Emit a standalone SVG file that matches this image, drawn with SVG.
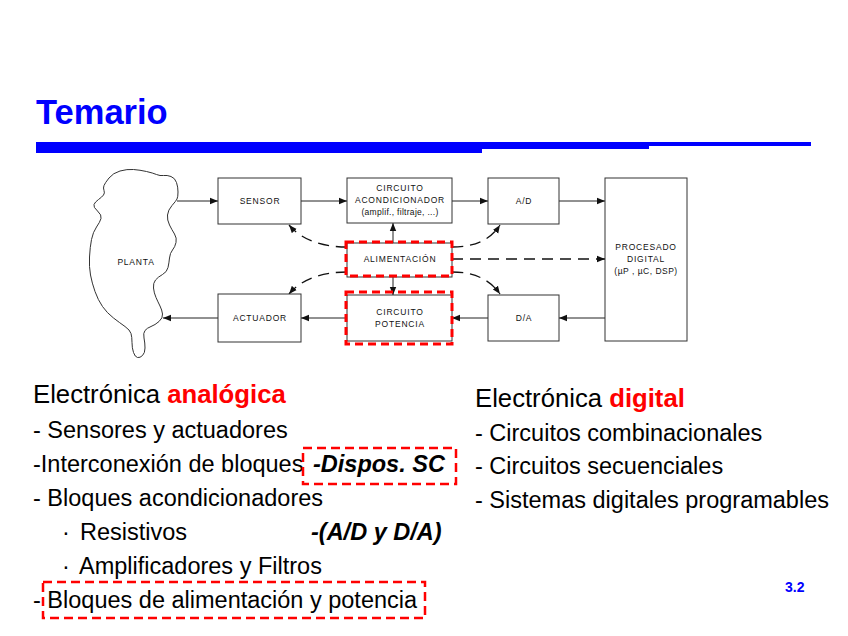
<svg xmlns="http://www.w3.org/2000/svg" width="848" height="636" viewBox="0 0 848 636">
<defs>
<style>
.box{fill:#fff;stroke:#333;stroke-width:1}
.lbl{font-family:"Liberation Sans",Arial,sans-serif;font-size:8.5px;letter-spacing:0.8px;fill:#111;text-anchor:middle}
.wire{fill:none;stroke:#222;stroke-width:1}
.dash{fill:none;stroke:#111;stroke-width:1.3;stroke-dasharray:11 7}
.red{fill:none;stroke:#f00;stroke-width:3;stroke-dasharray:8 5}
.redt{fill:none;stroke:#f00;stroke-width:2.5;stroke-dasharray:9 5}
.body{font-family:"Liberation Sans",Arial,sans-serif;font-size:23.5px;fill:#000}
.head{font-size:25.7px}
.hl{fill:#f00;font-weight:bold}
.bi{font-weight:bold;font-style:italic}
</style>
<marker id="ah" viewBox="0 0 10 10" refX="10" refY="5" markerWidth="8" markerHeight="8" markerUnits="userSpaceOnUse" orient="auto">
<path d="M0,1 L10,5 L0,9 Z" fill="#111"/>
</marker>
</defs>
<rect width="848" height="636" fill="#fff"/>
<text x="36" y="124" font-family="'Liberation Sans',Arial,sans-serif" font-size="34.5" font-weight="bold" fill="#00f">Temario</text>
<g id="title-bar" fill="#00f">
<rect x="36" y="142" width="446" height="11"/>
<rect x="481" y="142" width="168" height="7"/>
<rect x="648" y="142" width="163" height="4"/>
</g>
<g id="connectors">
<line class="wire" x1="177" y1="201" x2="218" y2="201" marker-end="url(#ah)"/>
<line class="wire" x1="301" y1="201" x2="347" y2="201" marker-end="url(#ah)"/>
<line class="wire" x1="452" y1="201" x2="488" y2="201" marker-end="url(#ah)"/>
<line class="wire" x1="559" y1="201" x2="605" y2="201" marker-end="url(#ah)"/>
<line class="wire" x1="605" y1="318" x2="559" y2="318" marker-end="url(#ah)"/>
<line class="wire" x1="488" y1="318" x2="452" y2="318" marker-end="url(#ah)"/>
<line class="wire" x1="347" y1="318" x2="301" y2="318" marker-end="url(#ah)"/>
<line class="wire" x1="218" y1="318" x2="163" y2="318" marker-end="url(#ah)"/>
<line class="wire" x1="393" y1="243" x2="393" y2="223" marker-end="url(#ah)"/>
<line class="wire" x1="393" y1="277" x2="393" y2="295" marker-end="url(#ah)"/>
<path class="dash" d="M452,259 L605,259" marker-end="url(#ah)"/>
<path class="dash" d="M347,247 C322,247 302,240 289,225" marker-end="url(#ah)"/>
<path class="dash" d="M347,272 C322,272 302,279 289,294" marker-end="url(#ah)"/>
<path class="dash" d="M452,247 C475,247 490,240 500,225" marker-end="url(#ah)"/>
<path class="dash" d="M452,272 C475,272 490,280 500,294" marker-end="url(#ah)"/>
</g>
<g id="planta">
<path fill="#fff" stroke="#333" stroke-width="1" d="M104,185.5 Q105,183 109,178 Q113,173 120,171 Q127,169 133.5,169.5 Q140,170 146.5,171.5 Q153,173 156.5,174.5 Q160,176 163.5,175.5 Q167,175 171,176.5 Q175,178 176.5,182.5 Q178,187 178,192 Q178,197 177,199 Q176,201 172,205.5 Q168,210 167.5,215 Q167,220 169.5,225 Q172,230 174.5,234 Q177,238 176,242.5 Q175,247 172.5,250 Q170,253 169.5,258 Q169,263 168,267.5 Q167,272 162.5,274.5 Q158,277 155.5,280 Q153,283 153.5,288 Q154,293 156,297.5 Q158,302 160,306 Q162,310 162.5,314 Q163,318 159,321.5 Q155,325 151,326.5 Q147,328 145,330.5 Q143,333 144,338 Q145,343 145,348 Q145,353 142.5,355.5 Q140,358 137.5,357.5 Q135,357 133.5,352.5 Q132,348 132,342.5 Q132,337 131,333.5 Q130,330 125,326.5 Q120,323 113.5,318 Q107,313 102.5,306.5 Q98,300 95,291.5 Q92,283 90.5,275 Q89,267 89.5,257 Q90,247 91.5,239.5 Q93,232 96.5,227 Q100,222 101,218.5 Q102,215 97.5,211 Q93,207 94,204.5 Q95,202 98.5,199.5 Q102,197 103.5,195 Q105,193 104,190.5 Q103,188 104,185.5 Z"/>
<text class="lbl" x="136" y="265">PLANTA</text>
</g>
<g id="sensor">
<rect class="box" x="218" y="178" width="83" height="46"/>
<text class="lbl" x="260" y="204">SENSOR</text>
</g>
<g id="acondicionador">
<rect class="box" x="347" y="178" width="105" height="45"/>
<text class="lbl" x="400" y="191">CIRCUITO</text>
<text class="lbl" x="400" y="203">ACONDICIONADOR</text>
<text class="lbl" x="400" y="215" style="letter-spacing:0.3px">(amplif., filtraje, ...)</text>
</g>
<g id="ad">
<rect class="box" x="488" y="178" width="71" height="46"/>
<text class="lbl" x="524" y="204">A/D</text>
</g>
<g id="procesado">
<rect class="box" x="605" y="178" width="82" height="163"/>
<text class="lbl" x="646" y="250">PROCESADO</text>
<text class="lbl" x="646" y="262">DIGITAL</text>
<text class="lbl" x="646" y="274" style="letter-spacing:0.5px">(µP , µC, DSP)</text>
</g>
<g id="alimentacion">
<rect class="box" x="347" y="243" width="105" height="34"/>
<text class="lbl" x="400" y="262">ALIMENTACIÓN</text>
<rect class="red" x="346" y="242" width="106" height="34"/>
</g>
<g id="potencia">
<rect class="box" x="347" y="295" width="105" height="46"/>
<text class="lbl" x="400" y="315">CIRCUITO</text>
<text class="lbl" x="400" y="327">POTENCIA</text>
<rect class="red" x="346" y="292" width="106" height="52"/>
</g>
<g id="da">
<rect class="box" x="488" y="295" width="71" height="46"/>
<text class="lbl" x="524" y="321">D/A</text>
</g>
<g id="actuador">
<rect class="box" x="218" y="294" width="83" height="48"/>
<text class="lbl" x="260" y="321">ACTUADOR</text>
</g>
<g id="analogica">
<text class="body head" x="33" y="403">Electrónica <tspan class="hl">analógica</tspan></text>
<text class="body" x="33" y="438">- Sensores y actuadores</text>
<text class="body" x="33" y="472">-Interconexión de bloques</text>
<text class="body bi" x="313" y="472">-Dispos. SC</text>
<rect class="redt" x="303" y="448" width="153" height="36"/>
<text class="body" x="33" y="506">- Bloques acondicionadores</text>
<text class="body" x="62" y="540">·<tspan x="80">Resistivos</tspan></text>
<text class="body bi" x="311" y="540">-(A/D y D/A)</text>
<text class="body" x="62" y="574">·<tspan x="79">Amplificadores y Filtros</tspan></text>
<text class="body" x="33" y="608">- Bloques de alimentación y potencia</text>
<rect class="redt" x="43" y="582" width="382" height="36"/>
</g>
<g id="digital">
<text class="body head" x="475" y="407">Electrónica <tspan class="hl">digital</tspan></text>
<text class="body" x="475" y="441">- Circuitos combinacionales</text>
<text class="body" x="475" y="474">- Circuitos secuenciales</text>
<text class="body" x="475" y="508">- Sistemas digitales programables</text>
</g>
<text x="785" y="592" font-family="'Liberation Sans',Arial,sans-serif" font-size="14" font-weight="bold" fill="#00f">3.2</text>
</svg>
